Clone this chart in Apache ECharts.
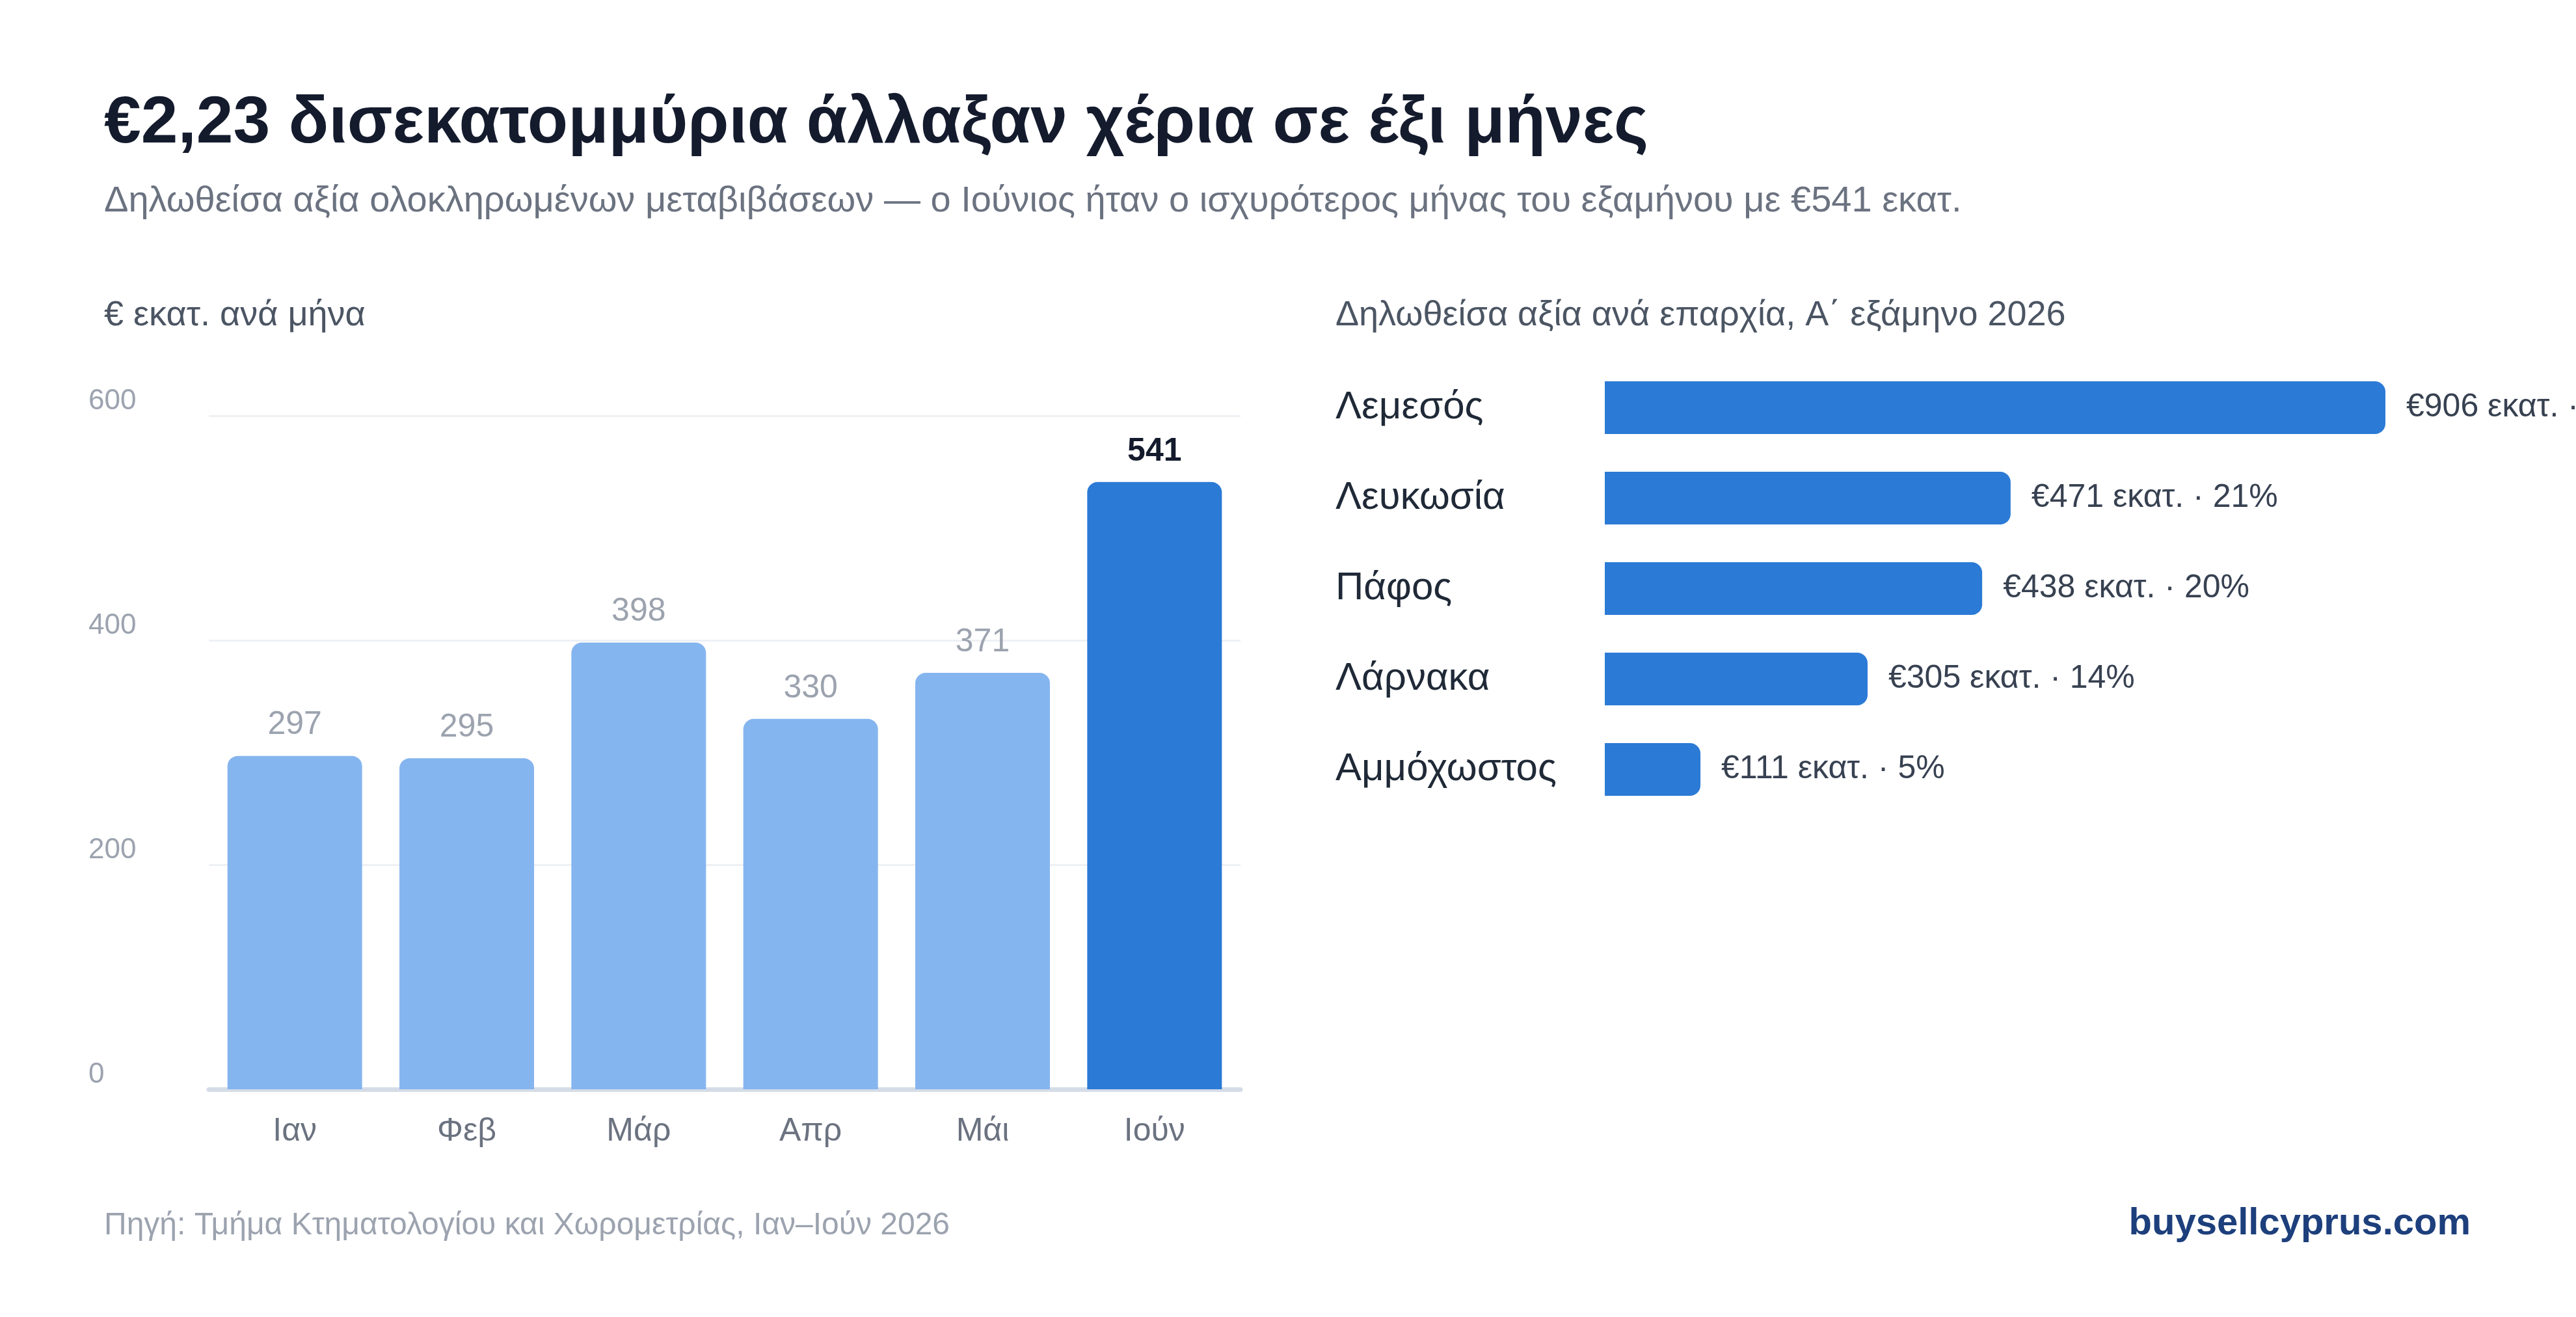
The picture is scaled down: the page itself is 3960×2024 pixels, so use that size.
<!DOCTYPE html>
<html><head><meta charset="utf-8">
<script src="https://cdn.jsdelivr.net/npm/echarts@6/dist/echarts.min.js"></script>
<style>html,body{margin:0;padding:0;background:#fff}#main{width:3960px;height:2024px}</style>
</head><body><div id="main"></div>
<script>
var months=['Ιαν','Φεβ','Μάρ','Απρ','Μάι','Ιούν']
var monthValues=[297,295,398,330,371,541]
var yTicks=[0,200,400,600]
var districts=['Λεμεσός','Λευκωσία','Πάφος','Λάρνακα','Αμμόχωστος']
var districtValues=[906,471,438,305,111]
var districtShares=[41,21,20,14,5]

var FONT='"Liberation Sans", Arial, sans-serif'
var chart=echarts.init(document.getElementById('main'))

var option={
	backgroundColor:'#fff',
	textStyle:{fontFamily:FONT},
	graphic:[
		{type:'text',left:160,top:140,style:{text:'€2,23 δισεκατομμύρια άλλαξαν χέρια σε έξι μήνες',font:'bold 102px '+FONT,fill:'#141b2d'}},
		{type:'text',left:160,top:282,style:{text:'Δηλωθείσα αξία ολοκληρωμένων μεταβιβάσεων — ο Ιούνιος ήταν ο ισχυρότερος μήνας του εξαμήνου με €541 εκατ.',font:'56px '+FONT,fill:'#6b7280'}},
		{type:'text',left:160,top:458,style:{text:'€ εκατ. ανά μήνα',font:'54px '+FONT,fill:'#4b5563'}},
		{type:'text',left:2053,top:458,style:{text:'Δηλωθείσα αξία ανά επαρχία, Α΄ εξάμηνο 2026',font:'54px '+FONT,fill:'#4b5563'}},
		{type:'text',left:160,top:1860,style:{text:'Πηγή: Τμήμα Κτηματολογίου και Χωρομετρίας, Ιαν–Ιούν 2026',font:'48px '+FONT,fill:'#9ca3af'}},
		{type:'text',right:162,top:1852,style:{text:'buysellcyprus.com',font:'bold 58px '+FONT,fill:'#1d3f7c'}}
	],
	grid:[
		{left:321,top:639,width:1586,height:1035},
		{left:2467,top:557,width:1200,height:695}
	],
	xAxis:[
		{gridIndex:0,type:'category',data:months,
			axisLine:{lineStyle:{color:'#d4dce8',width:7}},axisTick:{show:false},
			axisLabel:{color:'#6b7280',fontSize:50,margin:40,fontFamily:FONT}},
		{gridIndex:1,type:'value',min:0,max:906,show:false,splitLine:{show:false}}
	],
	yAxis:[
		{gridIndex:0,type:'value',min:0,max:600,interval:200,
			axisLine:{show:false},axisTick:{show:false},
			axisLabel:{color:'#9ca3af',fontSize:44,align:'left',margin:185,verticalAlign:'bottom',fontFamily:FONT},
			splitLine:{lineStyle:{color:'#eef0f4',width:3}}},
		{gridIndex:1,type:'category',data:districts,inverse:true,
			axisLine:{show:false},axisTick:{show:false},
			axisLabel:{color:'#1f2937',fontSize:60,align:'left',margin:414,fontFamily:FONT}}
	],
	series:[
		{type:'bar',xAxisIndex:0,yAxisIndex:0,barWidth:207,
			data:monthValues.map(function(v,i){
				var last=i===monthValues.length-1
				return {value:v,
					itemStyle:{color:last?'#2b7ad6':'#85b5ef',borderRadius:[16,16,0,0]},
					label:{color:last?'#141b2d':'#9ca3af',fontWeight:last?'bold':'normal'}}
			}),
			label:{show:true,position:'top',distance:22,fontSize:50,fontFamily:FONT}},
		{type:'bar',xAxisIndex:1,yAxisIndex:1,barWidth:81,
			data:districtValues,
			itemStyle:{color:'#2b7ad6',borderRadius:[0,16,16,0]},
			label:{show:true,position:'right',distance:32,fontSize:50,color:'#374151',fontFamily:FONT,
				formatter:function(p){return '€'+p.value+' εκατ. · '+districtShares[p.dataIndex]+'%'}}}
	]
}
chart.setOption(option)
</script></body></html>
